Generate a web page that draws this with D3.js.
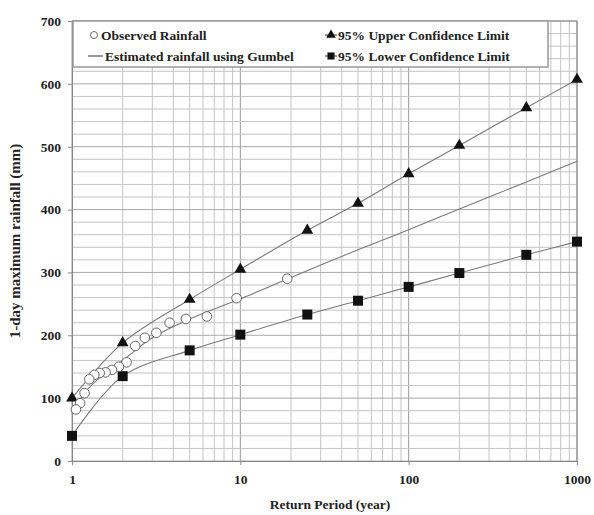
<!DOCTYPE html>
<html>
<head>
<meta charset="utf-8">
<script src="https://cdn.jsdelivr.net/npm/d3@7"></script>
<style>
  body { margin: 0; background: #fff; }
  text { font-family: "Liberation Serif", "Times New Roman", serif; font-weight: bold; fill: #222; }
</style>
</head>
<body>
<div id="chart"></div>
<script>
// Periodos de retorno con marcador
const returnPeriods = [1, 2, 5, 10, 25, 50, 100, 200, 500, 1000]
const upperLimit = [100, 188, 257, 305, 367, 410, 457, 502, 562, 607]
const lowerLimit = [40, 135, 176, 201, 233, 255, 277, 299, 328, 349]

// Lluvia observada (posiciones de Weibull)
const observedT = [19, 9.5, 6.33, 4.75, 3.8, 3.17, 2.71, 2.375, 2.11, 1.9, 1.727, 1.583, 1.46, 1.357, 1.267, 1.188, 1.118, 1.056]
const observedRain = [290, 259, 230, 226, 220, 204, 196, 183, 157, 150, 145, 141, 140, 137, 130, 108, 92, 82]

// Curva estimada con Gumbel
const gumbelT = [1, 1.05, 1.2, 1.5, 2, 3, 5, 10, 20, 50, 100, 200, 500, 1000]
const gumbelRain = [76, 86, 110, 135, 160, 196, 226, 258, 292, 336, 368, 401, 444, 477]

const xTicks = [1, 10, 100, 1000]
const yTicks = [0, 100, 200, 300, 400, 500, 600, 700]

const legendItems = [
  { label: 'Observed Rainfall', type: 'circle', col: 0, row: 0 },
  { label: '95% Upper Confidence Limit', type: 'triangle', col: 1, row: 0 },
  { label: 'Estimated rainfall using Gumbel', type: 'line', col: 0, row: 1 },
  { label: '95% Lower Confidence Limit', type: 'square', col: 1, row: 1 }
]

const width = 594, height = 515
const plotLeft = 72, plotRight = 577, plotTop = 21, plotBottom = 461

const svg = d3.select('#chart').append('svg')
  .attr('width', width)
  .attr('height', height)

const x = d3.scaleLog().domain([1, 1000]).range([plotLeft, plotRight])
const y = d3.scaleLinear().domain([0, 700]).range([plotBottom, plotTop])

// Rejilla
const minorX = []
for (let d = 1; d < 1000; d *= 10) for (let k = 1; k <= 9; k++) minorX.push(d * k)
minorX.push(1000)

const grid = svg.append('g').attr('class', 'grid')
grid.selectAll('.vgrid')
  .data(minorX)
  .enter()
  .append('line')
  .attr('x1', d => x(d)).attr('x2', d => x(d))
  .attr('y1', plotTop).attr('y2', plotBottom)
  .attr('stroke', d => xTicks.includes(d) ? '#999' : '#c4c4c4')
  .attr('stroke-width', 1)

grid.selectAll('.hgrid')
  .data(d3.range(0, 701, 20))
  .enter()
  .append('line')
  .attr('x1', plotLeft).attr('x2', plotRight)
  .attr('y1', d => y(d)).attr('y2', d => y(d))
  .attr('stroke', d => d % 100 === 0 ? '#aaa' : '#c4c4c4')
  .attr('stroke-width', 1)

// Ejes
svg.append('g')
  .attr('transform', `translate(0, ${plotBottom})`)
  .call(d3.axisBottom(x).tickValues(xTicks).tickFormat(d3.format('d')).tickSize(4).tickPadding(9))
  .call(g => g.select('.domain').attr('stroke', '#888'))
  .call(g => g.selectAll('.tick line').attr('stroke', '#888'))
  .call(g => g.selectAll('text').attr('font-size', 13.5).attr('fill', '#222'))

svg.append('g')
  .attr('transform', `translate(${plotLeft}, 0)`)
  .call(d3.axisLeft(y).tickValues(yTicks).tickSize(4).tickPadding(7))
  .call(g => g.select('.domain').attr('stroke', '#888'))
  .call(g => g.selectAll('.tick line').attr('stroke', '#888'))
  .call(g => g.selectAll('text').attr('font-size', 13.5).attr('fill', '#222'))

svg.append('line')
  .attr('x1', plotRight).attr('x2', plotRight)
  .attr('y1', plotTop).attr('y2', plotBottom)
  .attr('stroke', '#888')
svg.append('line')
  .attr('x1', plotLeft).attr('x2', plotRight)
  .attr('y1', plotTop).attr('y2', plotTop)
  .attr('stroke', '#888')

// Títulos de ejes
svg.append('text')
  .attr('x', 330)
  .attr('y', 509)
  .attr('text-anchor', 'middle')
  .attr('font-size', 13.5)
  .text('Return Period (year)')

svg.append('text')
  .attr('transform', `translate(20, 241) rotate(-90)`)
  .attr('text-anchor', 'middle')
  .attr('font-size', 15)
  .text('1-day maximum rainfall (mm)')

// Líneas
const line = d3.line()
  .x(d => x(d[0]))
  .y(d => y(d[1]))
  .curve(d3.curveCatmullRom.alpha(0.5))

const upperData = returnPeriods.map((t, i) => [t, upperLimit[i]])
const lowerData = returnPeriods.map((t, i) => [t, lowerLimit[i]])
const gumbelData = gumbelT.map((t, i) => [t, gumbelRain[i]])

const lines = svg.append('g').attr('fill', 'none').attr('stroke', '#7a7a7a').attr('stroke-width', 1.1)
lines.append('path').attr('d', line(upperData))
lines.append('path').attr('d', line(lowerData))
lines.append('path').attr('d', line(gumbelData))

// Marcadores
const tri = d3.symbol().type(d3.symbolTriangle).size(60)
const sq = d3.symbol().type(d3.symbolSquare).size(100)

svg.append('g').selectAll('path')
  .data(upperData)
  .enter()
  .append('path')
  .attr('transform', d => `translate(${x(d[0])}, ${y(d[1])})`)
  .attr('d', tri)
  .attr('fill', '#111')

svg.append('g').selectAll('path')
  .data(lowerData)
  .enter()
  .append('path')
  .attr('transform', d => `translate(${x(d[0])}, ${y(d[1])})`)
  .attr('d', sq)
  .attr('fill', '#111')

svg.append('g').selectAll('circle')
  .data(observedT.map((t, i) => [t, observedRain[i]]))
  .enter()
  .append('circle')
  .attr('cx', d => x(d[0]))
  .attr('cy', d => y(d[1]))
  .attr('r', 4.8)
  .attr('fill', '#fff')
  .attr('stroke', '#666')
  .attr('stroke-width', 1)

// Leyenda
const legend = svg.append('g')
legend.append('rect')
  .attr('x', plotLeft + 1).attr('y', plotTop)
  .attr('width', 548 - plotLeft - 1).attr('height', 67 - plotTop)
  .attr('fill', '#fff')
  .attr('stroke', '#999')
  .attr('stroke-width', 1.5)

const colX = [94, 331]
const rowY = [35, 56]

const item = legend.selectAll('.item')
  .data(legendItems)
  .enter()
  .append('g')
  .attr('transform', d => `translate(${colX[d.col]}, ${rowY[d.row]})`)

item.filter(d => d.type !== 'circle')
  .append('line')
  .attr('x1', -6)
  .attr('x2', d => d.type === 'line' ? 9 : 6)
  .attr('stroke', '#555')
  .attr('stroke-width', 1.2)

item.filter(d => d.type === 'circle')
  .append('circle')
  .attr('r', 3.5)
  .attr('fill', '#fff')
  .attr('stroke', '#666')

item.filter(d => d.type === 'triangle')
  .append('path').attr('d', d3.symbol().type(d3.symbolTriangle).size(40)).attr('fill', '#111')
item.filter(d => d.type === 'square')
  .append('path').attr('d', d3.symbol().type(d3.symbolSquare).size(50)).attr('fill', '#111')

item.append('text')
  .attr('x', d => d.type === 'line' ? 11 : 7)
  .attr('dy', '0.35em')
  .attr('font-size', 13.5)
  .text(d => d.label)
</script>
</body>
</html>
